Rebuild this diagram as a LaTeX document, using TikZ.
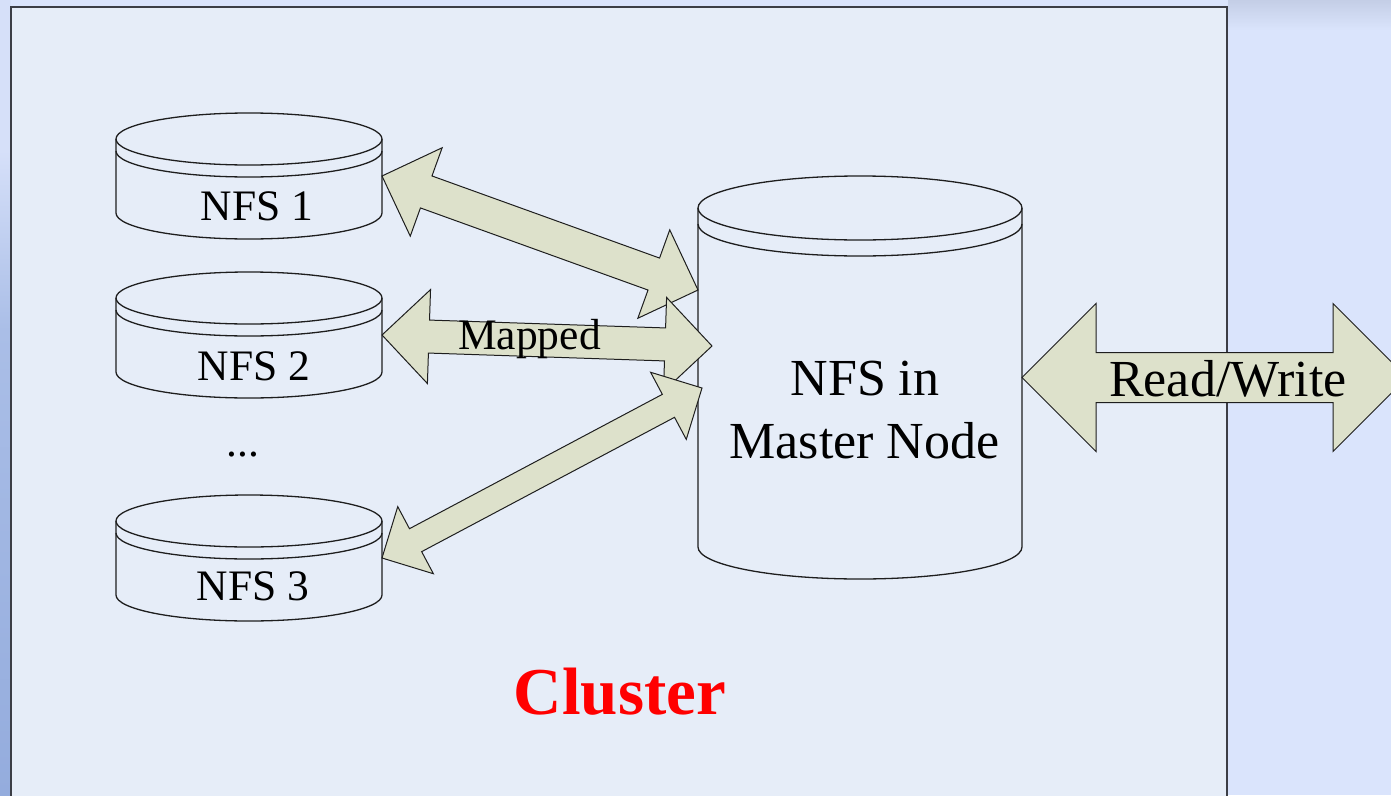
\documentclass[tikz,border=0pt]{standalone}
\usepackage{fontspec}
\setmainfont{Liberation Serif}
\usetikzlibrary{calc}

\definecolor{outerblue}{RGB}{218,228,252}
\definecolor{edgelight}{RGB}{214,224,249}
\definecolor{edgemid}{RGB}{170,190,231}
\definecolor{edgedark}{RGB}{148,172,221}
\definecolor{topshade}{RGB}{196,206,230}
\definecolor{panelfill}{RGB}{230,237,248}
\definecolor{panelline}{RGB}{60,62,70}
\definecolor{arrowfill}{RGB}{221,225,203}
\definecolor{inkline}{RGB}{30,30,30}

\tikzset{
  drumline/.style={draw=inkline, line width=1.3pt},
  flowbody/.style={fill=arrowfill, draw=inkline, line width=1pt, line join=miter},
  lbl/.style={anchor=base, inner sep=0pt, text=black},
  smalltext/.style={lbl, font=\fontsize{43.5}{50}\selectfont},
  bigtext/.style={lbl, font=\fontsize{52}{60}\selectfont},
  titletext/.style={lbl, text=red, font=\fontsize{67}{80}\selectfont\bfseries},
}

% Disk drum: name, centre x, top-ellipse y, bottom-ellipse y, x radius, y radius, rim gap
% (y values are measured downward from the top edge)
\newcommand\drum[7]{%
  \draw[drumline] (#2-#5,-#3) -- (#2-#5,-#4)
     arc[start angle=180, end angle=360, x radius=#5pt, y radius=#6pt]
     -- (#2+#5,-#3);
  \draw[drumline] (#2,-#3) ellipse[x radius=#5pt, y radius=#6pt];
  \draw[drumline] (#2-#5,-#3-#7)
     arc[start angle=180, end angle=360, x radius=#5pt, y radius=#6pt];
  \coordinate (#1-e) at (#2+#5,{-(#3+#4)/2});
}

% Block double arrow between two points: from, to, shaft half width, head half width, head length
\newcommand\flowarrow[5]{%
  \draw[flowbody] (#1)
    -- ($(#1)!#5!(#2)!#4!90:(#2)$)
    -- ($(#1)!#5!(#2)!#3!90:(#2)$)
    -- ($(#2)!#5!(#1)!#3!-90:(#1)$)
    -- ($(#2)!#5!(#1)!#4!-90:(#1)$)
    -- (#2)
    -- ($(#2)!#5!(#1)!#4!90:(#1)$)
    -- ($(#2)!#5!(#1)!#3!90:(#1)$)
    -- ($(#1)!#5!(#2)!#3!-90:(#2)$)
    -- ($(#1)!#5!(#2)!#4!-90:(#2)$)
    -- cycle;
}

\begin{document}
\begin{tikzpicture}[x=1pt,y=1pt]
\useasboundingbox (0,0) rectangle (1391,-795);
\clip (0,0) rectangle (1391,-795);

% backdrop
\fill[outerblue] (0,0) rectangle (1391,-795);
\shade[top color=topshade, bottom color=outerblue] (1228,0) rectangle (1391,-30);
\fill[edgelight] (0,0) rectangle (11,-150);
\shade[top color=edgelight, bottom color=edgemid] (0,-150) rectangle (11,-330);
\shade[top color=edgemid, bottom color=edgedark] (0,-330) rectangle (11,-795);

% cluster panel
\fill[panelfill, draw=panelline, line width=1.5pt] (11,-7) rectangle (1227,-820);

% storage drums
\drum{nfsa}{249}{139}{213}{133}{26}{12}
\drum{nfsb}{249}{298}{372}{133}{26}{12}
\drum{nfsc}{249}{521}{595}{133}{26}{12}
\drum{master}{860}{208}{547}{162}{32}{16}

% arrow ends on the master drum and outside
\coordinate (tipa) at (698,-290);
\coordinate (tipb) at (712,-346);
\coordinate (tipc) at (702,-388);
\coordinate (rwend) at (1407,-377.5);

% mapping arrows
\flowarrow{nfsa-e}{tipa}{17pt}{47pt}{47pt}
\flowarrow{nfsb-e}{tipb}{16.5pt}{47pt}{47pt}
\flowarrow{nfsc-e}{tipc}{13pt}{38pt}{38pt}
\flowarrow{master-e}{rwend}{25pt}{74pt}{74pt}

% labels
\node[smalltext] (lbla) at (257,-220) {NFS 1};
\node[smalltext] (lblb) at (254,-380) {NFS 2};
\node[smalltext] (lbldots) at (243,-456) {...};
\node[smalltext] (lblc) at (253,-600) {NFS 3};
\node[smalltext] (lblmap) at (529.5,-349) {Mapped};
\node[bigtext] (lblm1) at (865,-395) {NFS in};
\node[bigtext] (lblm2) at (864.5,-458) {Master Node};
\node[bigtext] (lblrw) at (1228,-396) {Read/Write};
\node[titletext] (lblcl) at (620,-714) {Cluster};
\end{tikzpicture}
\end{document}
